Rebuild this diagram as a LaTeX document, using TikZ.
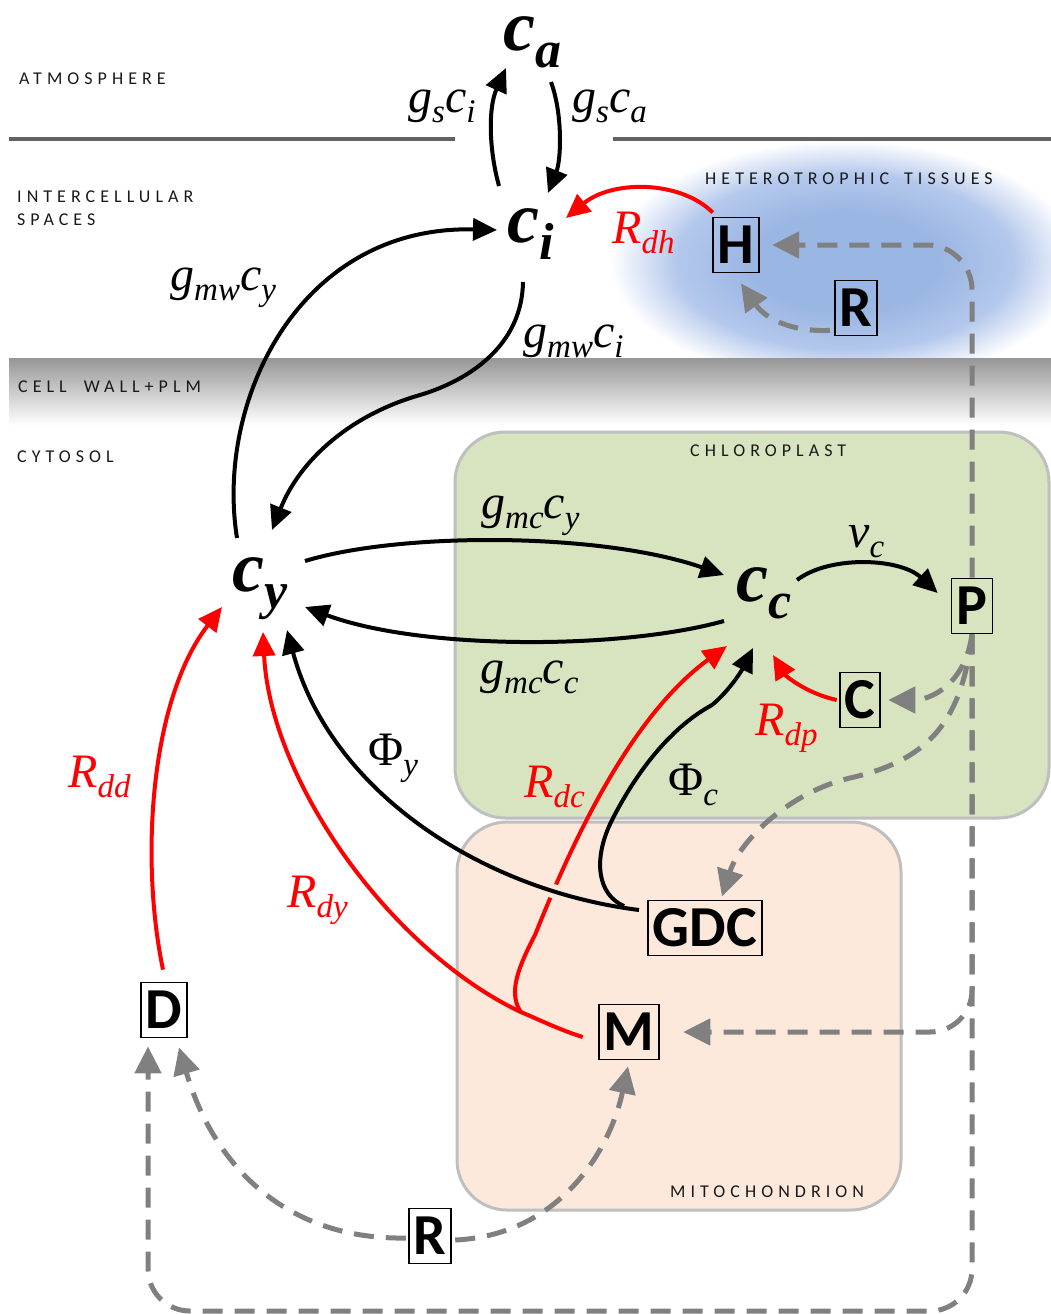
\documentclass[tikz,border=0pt]{standalone}
\usepackage{fontspec}
\setmainfont{Liberation Serif}
\newfontfamily\boxfont{Carlito}
\newfontfamily\regfont[LetterSpace=28]{Carlito}
\usetikzlibrary{arrows.meta,calc}
\definecolor{dgray}{RGB}{128,128,128}
\definecolor{greenbg}{RGB}{216,228,191}
\definecolor{peach}{RGB}{252,233,219}
\definecolor{bord}{RGB}{191,191,191}
\definecolor{glowc}{RGB}{154,182,227}
\definecolor{glowd}{RGB}{180,200,236}
\definecolor{lineg}{RGB}{98,98,98}
\definecolor{bandtop}{RGB}{150,150,150}
\definecolor{bandmid}{RGB}{215,215,215}
\pgfdeclareradialshading{glow}{\pgfpointorigin}{color(0bp)=(glowc); color(10bp)=(glowc); color(18bp)=(glowd); color(25bp)=(white); color(50bp)=(white)}
\newcommand{\sbs}[1]{\raisebox{-10pt}{\fontsize{33}{33}\selectfont #1}}
\newcommand{\bsub}[1]{\raisebox{-17pt}{\fontsize{52}{52}\selectfont #1}}
\tikzset{
  bk/.style={line width=4pt, -{Triangle[length=24pt,width=22pt]}},
  rd/.style={red, line width=4pt, -{Triangle[length=24pt,width=22pt]}},
  gd/.style={dgray, line width=5pt, dash pattern=on 20pt off 12pt, -{Triangle[length=27pt,width=26pt]}},
  lbox/.style={draw, line width=1.8pt, font=\boxfont\bfseries\fontsize{58}{58}\selectfont,
     inner xsep=5pt, inner ysep=9pt, text height=37pt, text depth=0pt},
  lab/.style={font=\fontsize{48}{48}\selectfont\itshape, inner sep=0pt, anchor=base west},
  bigc/.style={font=\fontsize{72}{72}\selectfont\bfseries\itshape, inner sep=0pt, anchor=base west, text height=36pt},
  reg/.style={font=\regfont\fontsize{18}{18}\selectfont, inner sep=0pt, anchor=west, text=black!90},
  compart/.style={draw=bord, line width=3pt, rounded corners=50pt}
}
\begin{document}
\begin{tikzpicture}[x=1pt,y=-1pt]
\useasboundingbox (0,0) rectangle (1051,1314);
% background glow
\begin{scope}
\clip (0,0) rectangle (1051,1314);
\shade[shading=glow] (845,262) ellipse [x radius=235, y radius=122];
\end{scope}
% cell wall band
\shade[top color=bandtop, middle color=bandmid, bottom color=white] (9,358) rectangle (1051,425);
% atmosphere boundary
\draw[lineg, line width=4.5pt] (9,139) -- (455,139);
\draw[lineg, line width=4.5pt] (613,139) -- (1051,139);
% compartments
\draw[compart, fill=greenbg] (455,432) rectangle (1049,818);
\draw[compart, fill=peach] (457,822) rectangle (901,1210);
% region labels
\node[reg] (atm) at (19,79) {ATMOSPHERE};
\node[reg] (ics1) at (17,197) {INTERCELLULAR};
\node[reg] (ics2) at (17,220) {SPACES};
\node[reg] (cw) at (18,387) {CELL\hspace{17pt}WALL+PLM};
\node[reg] (cyt) at (17,457) {CYTOSOL};
\node[reg] (het) at (705,179) {HETEROTROPHIC\hspace{15pt}TISSUES};
\node[reg] (chl) at (690,451) {CHLOROPLAST};
\node[reg] (mit) at (670,1192) {MITOCHONDRION};
% concentration nodes
\node[bigc] (ca) at (503,51) {c\bsub{a}};
\node[bigc] (ci) at (507,242) {c\bsub{i}};
\node[bigc] (cy) at (232,591) {c\bsub{y}};
\node[bigc] (cc) at (736,601) {c\bsub{c}};
% boxes
\node[lbox] (H) at (736,245) {H};
\node[lbox] (Rh) at (856,308) {R};
\node[lbox] (P) at (972,606) {P};
\node[lbox] (C) at (860,700) {C};
\node[lbox] (GDC) at (705,928) {GDC};
\node[lbox] (M) at (629,1032) {M};
\node[lbox] (D) at (164,1010) {D};
\node[lbox] (Rb) at (430,1236) {R};
\coordinate (bl) at (148,1311);
% flux labels
\node[lab] (l1) at (408,112) {g\sbs{s}c\sbs{i}};
\node[lab] (l2) at (572,112) {g\sbs{s}c\sbs{a}};
\node[lab, text=red] (l3) at (612,243) {R\sbs{dh}};
\node[lab] (l4) at (170,290) {g\sbs{mw}c\sbs{y}};
\node[lab] (l5) at (523,347) {g\sbs{mw}c\sbs{i}};
\node[lab] (l6) at (481,518) {g\sbs{mc}c\sbs{y}};
\node[lab] (l7) at (480,683) {g\sbs{mc}c\sbs{c}};
\node[lab] (l8) at (848,547) {v\sbs{c}};
\node[lab, text=red] (l9) at (755,735) {R\sbs{dp}};
\node[lab] (l10) at (368,765) {\upshape Φ\sbs{\itshape y}};
\node[lab, text=red] (l11) at (524,797) {R\sbs{dc}};
\node[lab] (l12) at (668,795) {\upshape Φ\sbs{\itshape c}};
\node[lab, text=red] (l13) at (68,787) {R\sbs{dd}};
\node[lab, text=red] (l14) at (287,907) {R\sbs{dy}};
% gray dashed connectors
\draw[gd, rounded corners=45pt] (P.north) -- (P.north |- H.east) -- ($(H.east)+(12,0)$);
\draw[gd, rounded corners=42pt] (P.south) -- (P.south |- M.east) -- ($(M.east)+(23,0)$);
\draw[gd, rounded corners=42pt] (P.south) -- (P.south |- bl) -- (bl) -- ($(bl |- D.south)+(0,8)$);
\draw[gd] (P.south) .. controls (965,685) and (930,700) .. ($(C.east)+(7,0)$);
\draw[gd] (P.south) .. controls (962,720) and (930,760) .. (850,778) .. controls (790,792) and (740,840) .. ($(GDC.north)+(17,-3)$);
\draw[gd] ($(Rb.west)+(-2,2)$) .. controls (290,1240) and (215,1170) .. ($(D.south)+(15,9)$);
\draw[gd] ($(Rb.east)+(3,4)$) .. controls (560,1235) and (610,1150) .. ($(M.south)+(-1,6)$);
\draw[gd] ($(Rh.south west)+(-4,-6)$) .. controls (790,332) and (765,318) .. ($(H.south)+(5,10)$);
% red connectors
\draw[rd] ($(H.north west)+(1,-4)$) .. controls (680,180) and (612,180) .. ($(ci.base west)+(59,-24)$);
\draw[rd] ($(C.west)+(-2,0)$) .. controls (805,693) and (785,675) .. ($(cc.base west)+(37,54)$);
\draw[rd] ($(D.north)+(-1,-12)$) .. controls (140,860) and (150,700) .. ($(cy.base west)+(-10,16)$);
\draw[rd] ($(M.west)+(-15,5)$) .. controls (560,1030) and (540,1020) .. ($(M.west)+(-77,-20)$) .. controls (390,950) and (270,780) .. ($(cy.base west)+(31,41)$);
\draw[rd] ($(M.west)+(-77,-20)$) .. controls (510,995) and (514,975) .. (535,935) .. controls (565,860) and (625,720) .. ($(cc.base west)+(-9,45)$);
% gap where Phi_y crosses R_dc
\begin{scope}
\clip[rounded corners=48pt] (460,825) rectangle (898,1207);
\draw[peach, line width=14pt] ($(GDC.west)+(-8,-18)$) .. controls (480,890) and (330,790) .. ($(cy.base west)+(55,39)$);
\end{scope}
% black connectors
\draw[bk] ($(ci.base west)+(-8,-56)$) .. controls (489,150) and (488,108) .. ($(ca.base west)+(3,17)$);
\draw[bk] ($(ca.base west)+(48,31)$) .. controls (563,115) and (561,160) .. ($(ci.base west)+(41,-49)$);
\draw[bk] ($(cy.base west)+(5,-53)$) .. controls (215,400) and (300,225) .. ($(ci.base west)+(-10,-12)$);
\draw[bk] ($(ci.base west)+(16,40)$) .. controls (522,345) and (470,380) .. (420,395) .. controls (350,415) and (300,460) .. ($(cy.base west)+(40,-61)$);
\draw[bk] ($(cy.base west)+(73,-30)$) .. controls (400,532) and (600,532) .. ($(cc.base west)+(-12,-26)$);
\draw[bk] ($(cc.base west)+(-12,20)$) .. controls (620,650) and (420,650) .. ($(cy.base west)+(73,16)$);
\draw[bk] ($(cc.base west)+(61,-21)$) .. controls (830,555) and (900,558) .. ($(P.west)+(-13,-13)$);
\draw[bk] ($(GDC.west)+(-8,-18)$) .. controls (480,890) and (330,790) .. ($(cy.base west)+(55,39)$);
\draw[bk] ($(GDC.west)+(-23,-22)$) .. controls (598,895) and (592,860) .. (612,820) .. controls (640,765) and (675,725) .. (712,705) .. controls (730,690) and (742,670) .. ($(cc.base west)+(17,47)$);
\end{tikzpicture}
\end{document}
